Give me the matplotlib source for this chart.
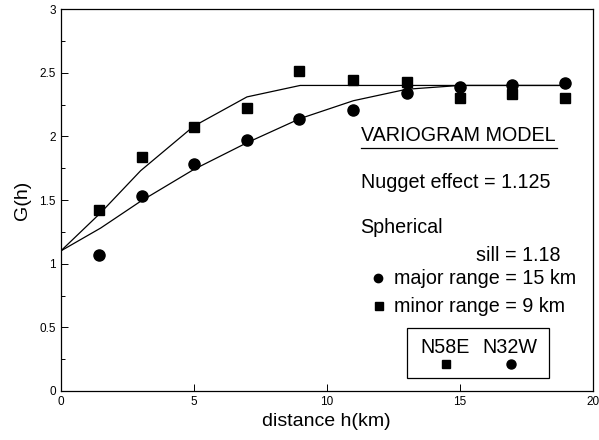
import matplotlib
matplotlib.use('Agg')
import matplotlib.pyplot as plt
from matplotlib.patches import Rectangle
from matplotlib.ticker import MultipleLocator

plt.rcParams['font.family'] = ['Liberation Sans', 'DejaVu Sans']

# experimental variogram, lag distance in km
lags = [1.45, 3.05, 5.0, 7.0, 8.95, 11.0, 13.0, 15.0, 16.95, 18.95]
g_n58e = [1.42, 1.84, 2.07, 2.22, 2.51, 2.445, 2.425, 2.30, 2.33, 2.30]
g_n32w = [1.07, 1.53, 1.785, 1.97, 2.135, 2.21, 2.34, 2.39, 2.40, 2.42]

# fitted spherical models (minor range 9 km, major range 15 km)
model_h = [0, 1.5, 3, 5, 7, 9, 11, 13, 15, 17, 19]
model_minor = [1.10, 1.40, 1.73, 2.08, 2.31, 2.40, 2.40, 2.40, 2.40, 2.40, 2.40]
model_major = [1.10, 1.28, 1.49, 1.74, 1.95, 2.14, 2.28, 2.37, 2.40, 2.40, 2.40]

fig = plt.figure(figsize=(5.99, 4.40), dpi=100)
ax = fig.add_axes([0.1015, 0.1114, 0.888, 0.868])

ax.plot(model_h, model_minor, color='black', lw=0.9)
ax.plot(model_h, model_major, color='black', lw=0.9)
ax.plot(lags, g_n58e, ls='none', marker='s', ms=7.5, color='black')
ax.plot(lags, g_n32w, ls='none', marker='o', ms=8, color='black')

ax.set_xlim(0, 20)
ax.set_ylim(0, 3)
ax.xaxis.set_major_locator(MultipleLocator(5))
ax.yaxis.set_major_locator(MultipleLocator(0.5))
ax.yaxis.set_minor_locator(MultipleLocator(0.25))
ax.tick_params(which='both', direction='in', labelsize=8.5)
ax.tick_params(which='major', length=5, width=0.7)
ax.tick_params(which='minor', length=3, width=0.7)
ax.set_yticks([0, 0.5, 1, 1.5, 2, 2.5, 3])
ax.set_yticklabels(['0', '0.5', '1', '1.5', '2', '2.5', '3'])
for s in ax.spines.values():
    s.set_linewidth(0.9)

ax.set_xlabel('distance h(km)', fontsize=14, labelpad=4)
ax.set_ylabel('G(h)', fontsize=14, labelpad=6)

fs = 14.2
ax.text(11.27, 2.008, 'VARIOGRAM MODEL', fontsize=fs, va='center')
ax.plot([11.27, 18.66], [1.911, 1.911], color='black', lw=0.9)
ax.text(11.27, 1.640, 'Nugget effect = 1.125', fontsize=fs, va='center')
ax.text(11.27, 1.286, 'Spherical', fontsize=fs, va='center')
ax.text(15.61, 1.063, 'sill = 1.18', fontsize=fs, va='center')
ax.plot(11.92, 0.885, marker='o', ms=6, color='black')
ax.text(12.51, 0.885, 'major range = 15 km', fontsize=fs, va='center')
ax.plot(11.95, 0.665, marker='s', ms=5.5, color='black')
ax.text(12.51, 0.665, 'minor range = 9 km', fontsize=fs, va='center')

# direction key
ax.add_patch(Rectangle((13.03, 0.105), 5.33, 0.391, fill=False,
                       edgecolor='black', lw=0.9))
ax.text(14.45, 0.34, 'N58E', fontsize=fs, ha='center', va='center')
ax.text(16.88, 0.34, 'N32W', fontsize=fs, ha='center', va='center')
ax.plot(14.48, 0.21, marker='s', ms=6, color='black')
ax.plot(16.92, 0.21, marker='o', ms=6.5, color='black')

fig.savefig('out.png', dpi=100)
